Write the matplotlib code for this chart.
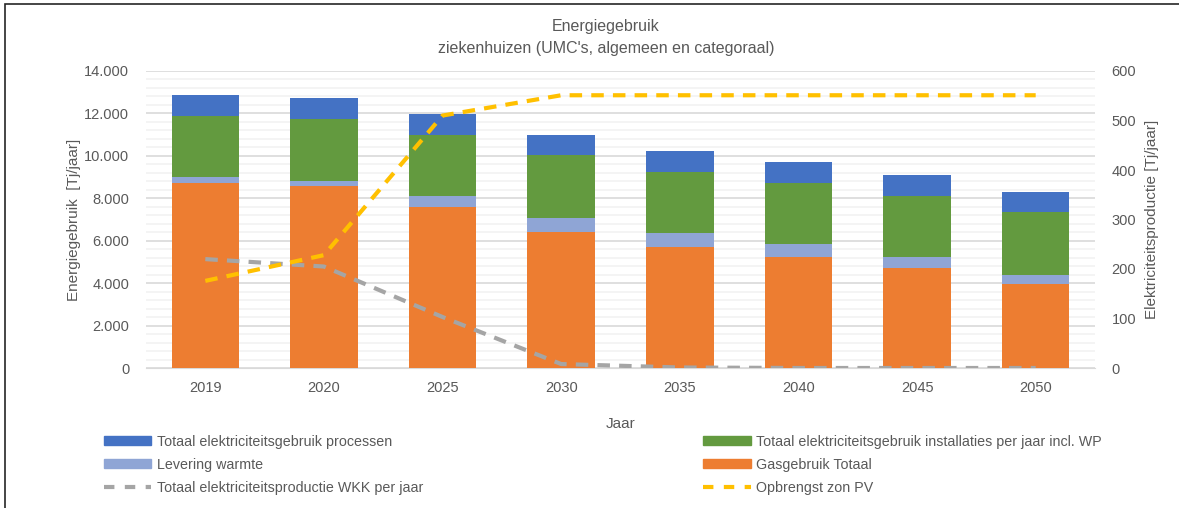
import numpy as np
import matplotlib.pyplot as plt
from matplotlib.patches import Rectangle
from matplotlib.lines import Line2D
from matplotlib.ticker import FuncFormatter, MultipleLocator

# --- data (Tj/jaar) ---
jaren = ['2019', '2020', '2025', '2030', '2035', '2040', '2045', '2050']
gas_totaal = [8740, 8580, 7580, 6410, 5700, 5230, 4730, 3950]
levering_warmte = [250, 240, 520, 680, 660, 610, 500, 440]
elek_installaties = [2905, 2940, 2890, 2940, 2890, 2880, 2890, 2940]
elek_processen = [975, 975, 990, 970, 975, 990, 975, 975]
wkk_productie = [220, 205, 103, 8, 1, 0, 0, 0]
zon_pv = [176, 228, 510, 551, 551, 551, 551, 551]

c_blauw = '#4472C4'
c_groen = '#639A3F'
c_lichtblauw = '#8FA5D5'
c_oranje = '#ED7D31'
c_grijs = '#A5A5A5'
c_geel = '#FFC000'
c_tekst = '#595959'

plt.rcParams['font.family'] = ['Liberation Sans', 'DejaVu Sans']

W, H = 1179, 508
fig = plt.figure(figsize=(W / 100, H / 100), dpi=100)
ax = fig.add_axes([146 / W, 1 - 368 / H, (1095 - 146) / W, (368 - 71) / H])
ax2 = ax.twinx()

x = np.arange(len(jaren))
bw = 0.57
bottom = np.zeros(len(jaren))
for vals, kleur in [(gas_totaal, c_oranje), (levering_warmte, c_lichtblauw),
                    (elek_installaties, c_groen), (elek_processen, c_blauw)]:
    ax.bar(x, vals, bw, bottom=bottom, color=kleur, zorder=3)
    bottom += np.array(vals)

ax2.plot(x, wkk_productie, color=c_grijs, lw=3, dashes=(3, 2.2), zorder=4)
ax2.plot(x, zon_pv, color=c_geel, lw=3, dashes=(3, 2.2), zorder=4)

ax.set_xlim(-0.5, len(jaren) - 0.5)
ax.set_ylim(0, 14000)
ax2.set_ylim(0, 600)
ax.yaxis.set_major_locator(MultipleLocator(2000))
ax.yaxis.set_minor_locator(MultipleLocator(400))
ax2.yaxis.set_major_locator(MultipleLocator(100))
ax.yaxis.set_major_formatter(FuncFormatter(lambda v, p: f'{int(v):,}'.replace(',', '.')))
ax.grid(axis='y', which='major', color='#D9D9D9', lw=1.2, zorder=0)
ax.grid(axis='y', which='minor', color='#F2F2F2', lw=1.2, zorder=0)
ax.set_axisbelow(True)
ax.set_zorder(ax2.get_zorder() - 1)
ax.patch.set_visible(False)

for a in (ax, ax2):
    for s in a.spines.values():
        s.set_visible(False)
    a.tick_params(which='both', length=0, labelsize=10.5, colors=c_tekst)
ax.spines['bottom'].set_visible(True)
ax.spines['bottom'].set_color('#D9D9D9')
ax.set_xticks(x, jaren)
ax.tick_params(axis='x', pad=9)
ax.tick_params(axis='y', pad=12)
ax2.tick_params(axis='y', pad=12)

ax.set_ylabel('Energiegebruik  [Tj/jaar]', fontsize=11, color=c_tekst, labelpad=2)
ax2.set_ylabel('Elektriciteitsproductie [Tj/jaar]', fontsize=11, color=c_tekst, labelpad=6)
ax.set_xlabel('Jaar', fontsize=11, color=c_tekst, labelpad=16)

fig.text(606 / W, 1 - 27 / H, 'Energiegebruik', ha='center', va='center',
         fontsize=11.5, color=c_tekst)
fig.text(606 / W, 1 - 48 / H, "ziekenhuizen (UMC's, algemeen en categoraal)",
         ha='center', va='center', fontsize=11.5, color=c_tekst)

handles = [
    Rectangle((0, 0), 1, 1, color=c_blauw),
    Rectangle((0, 0), 1, 1, color=c_lichtblauw),
    Line2D([], [], color=c_grijs, lw=3, dashes=(2.5, 2.5)),
    Rectangle((0, 0), 1, 1, color=c_groen),
    Rectangle((0, 0), 1, 1, color=c_oranje),
    Line2D([], [], color=c_geel, lw=3, dashes=(2.5, 2.5)),
]
labels = [
    'Totaal elektriciteitsgebruik processen',
    'Levering warmte',
    'Totaal elektriciteitsproductie WKK per jaar',
    'Totaal elektriciteitsgebruik installaties per jaar incl. WP',
    'Gasgebruik Totaal',
    'Opbrengst zon PV',
]
leg = fig.legend(handles, labels, ncol=2, mode='expand', frameon=False,
                 loc='upper left', bbox_to_anchor=(104 / W, 1 - 505 / H, 998 / W, 70 / H),
                 fontsize=10.3, handlelength=3.3, handleheight=0.6, handletextpad=0.4,
                 labelspacing=0.62, borderaxespad=0, borderpad=0)
for t in leg.get_texts():
    t.set_color(c_tekst)

# chart frame
fig.patches.append(Rectangle((5 / W, -0.05), 1.1, 1 - 4 / H + 0.05, transform=fig.transFigure,
                             fill=False, edgecolor='#262626', lw=1.2))

fig.savefig('out.png', dpi=100)
